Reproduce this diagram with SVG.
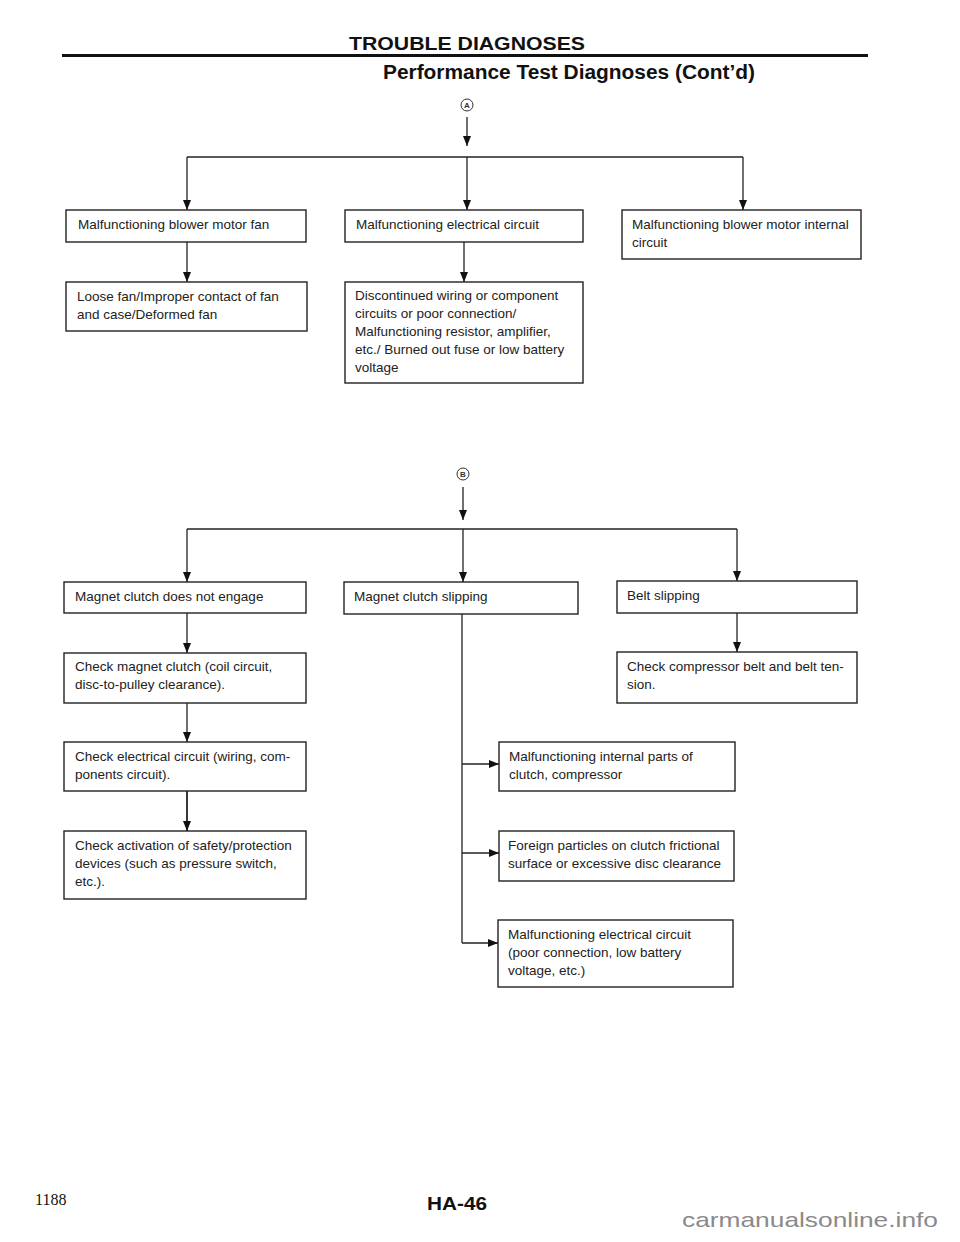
<svg xmlns="http://www.w3.org/2000/svg" width="960" height="1242" viewBox="0 0 960 1242">
<defs>
<marker id="ah" markerUnits="userSpaceOnUse" markerWidth="11" markerHeight="9" refX="10" refY="4" orient="auto">
<path d="M0,0 L10,4 L0,8 z" fill="#111"/>
</marker>
<style>
.box{fill:#fff;stroke:#222;stroke-width:1.4}
.t{font-family:"Liberation Sans",Arial,sans-serif;font-size:13.5px;fill:#222}
.c{fill:none;stroke:#222;stroke-width:1.3}
.a{fill:none;stroke:#222;stroke-width:1.3;marker-end:url(#ah)}
.circ{fill:none;stroke:#333;stroke-width:1}
.cl{font-family:"Liberation Sans",Arial,sans-serif;font-size:8px;font-weight:bold;fill:#333}
.h{font-family:"Liberation Sans",Arial,sans-serif;font-weight:bold;fill:#111}
</style>
</defs>
<rect width="960" height="1242" fill="#fff"/>

<g id="header">
<text class="h" x="349" y="50" font-size="19" textLength="236" lengthAdjust="spacingAndGlyphs">TROUBLE DIAGNOSES</text>
<rect x="62" y="54" width="806" height="3" fill="#111"/>
<text class="h" x="383" y="79" font-size="20" textLength="372" lengthAdjust="spacingAndGlyphs">Performance Test Diagnoses (Cont’d)</text>
</g>

<g id="connector-A-label">
<circle class="circ" cx="467" cy="105" r="6"/>
<text class="cl" x="467" y="108" text-anchor="middle">A</text>
</g>
<g id="connector-B-label">
<circle class="circ" cx="463" cy="474" r="6"/>
<text class="cl" x="463" y="477" text-anchor="middle">B</text>
</g>

<g id="connectors">
<line class="a" x1="467" y1="117" x2="467" y2="146"/>
<line class="c" x1="187" y1="157" x2="743" y2="157"/>
<line class="a" x1="187" y1="157" x2="187" y2="210"/>
<line class="a" x1="467" y1="157" x2="467" y2="210"/>
<line class="a" x1="743" y1="157" x2="743" y2="210"/>
<line class="a" x1="187" y1="242" x2="187" y2="282"/>
<line class="a" x1="464" y1="242" x2="464" y2="282"/>

<line class="a" x1="463" y1="487" x2="463" y2="520"/>
<line class="c" x1="187" y1="529" x2="737" y2="529"/>
<line class="a" x1="187" y1="529" x2="187" y2="582"/>
<line class="a" x1="463" y1="529" x2="463" y2="582"/>
<line class="a" x1="737" y1="529" x2="737" y2="581"/>
<line class="a" x1="187" y1="613" x2="187" y2="653"/>
<line class="a" x1="187" y1="703" x2="187" y2="742"/>
<line class="a" x1="187" y1="791" x2="187" y2="831" style="stroke-width:1.8"/>
<line class="a" x1="737" y1="613" x2="737" y2="652"/>
<polyline class="c" points="462,614 462,943"/>
<line class="a" x1="462" y1="764" x2="499" y2="764"/>
<line class="a" x1="462" y1="853" x2="499" y2="853"/>
<line class="a" x1="462" y1="943" x2="498" y2="943"/>
</g>

<g id="n1"><rect class="box" x="66" y="210" width="240" height="32"/><text class="t" x="78" y="229">Malfunctioning blower motor fan</text></g>
<g id="n2"><rect class="box" x="345" y="210" width="238" height="32"/><text class="t" x="356" y="229">Malfunctioning electrical circuit</text></g>
<g id="n3"><rect class="box" x="622" y="210" width="239" height="49"/><text class="t" x="632" y="229">Malfunctioning blower motor internal</text><text class="t" x="632" y="247">circuit</text></g>
<g id="n4"><rect class="box" x="66" y="282" width="241" height="49"/><text class="t" x="77" y="301">Loose fan/Improper contact of fan</text><text class="t" x="77" y="319">and case/Deformed fan</text></g>
<g id="n5"><rect class="box" x="345" y="282" width="238" height="101"/>
<text class="t" x="355" y="300">Discontinued wiring or component</text>
<text class="t" x="355" y="318">circuits or poor connection/</text>
<text class="t" x="355" y="336">Malfunctioning resistor, amplifier,</text>
<text class="t" x="355" y="354">etc./ Burned out fuse or low battery</text>
<text class="t" x="355" y="372">voltage</text></g>

<g id="n6"><rect class="box" x="64" y="582" width="242" height="31"/><text class="t" x="75" y="601">Magnet clutch does not engage</text></g>
<g id="n7"><rect class="box" x="344" y="582" width="234" height="32"/><text class="t" x="354" y="601">Magnet clutch slipping</text></g>
<g id="n8"><rect class="box" x="617" y="581" width="240" height="32"/><text class="t" x="627" y="600">Belt slipping</text></g>
<g id="n9"><rect class="box" x="64" y="653" width="242" height="50"/><text class="t" x="75" y="671">Check magnet clutch (coil circuit,</text><text class="t" x="75" y="689">disc-to-pulley clearance).</text></g>
<g id="n10"><rect class="box" x="617" y="652" width="240" height="51"/><text class="t" x="627" y="671">Check compressor belt and belt ten-</text><text class="t" x="627" y="689">sion.</text></g>
<g id="n11"><rect class="box" x="64" y="742" width="242" height="49"/><text class="t" x="75" y="761">Check electrical circuit (wiring, com-</text><text class="t" x="75" y="779">ponents circuit).</text></g>
<g id="n12"><rect class="box" x="499" y="742" width="236" height="49"/><text class="t" x="509" y="761">Malfunctioning internal parts of</text><text class="t" x="509" y="779">clutch, compressor</text></g>
<g id="n13"><rect class="box" x="64" y="831" width="242" height="68"/><text class="t" x="75" y="850">Check activation of safety/protection</text><text class="t" x="75" y="868">devices (such as pressure switch,</text><text class="t" x="75" y="886">etc.).</text></g>
<g id="n14"><rect class="box" x="499" y="831" width="235" height="50"/><text class="t" x="508" y="850">Foreign particles on clutch frictional</text><text class="t" x="508" y="868">surface or excessive disc clearance</text></g>
<g id="n15"><rect class="box" x="498" y="920" width="235" height="67"/><text class="t" x="508" y="939">Malfunctioning electrical circuit</text><text class="t" x="508" y="957">(poor connection, low battery</text><text class="t" x="508" y="975">voltage, etc.)</text></g>

<g id="footer">
<text x="35" y="1205" font-family="'Liberation Serif',serif" font-size="16" fill="#111">1188</text>
<text class="h" x="427" y="1210" font-size="18" textLength="60" lengthAdjust="spacingAndGlyphs">HA-46</text>
<text x="682" y="1227" font-family="'Liberation Sans',Arial,sans-serif" font-size="21" fill="#8a8a8a" textLength="256" lengthAdjust="spacingAndGlyphs">carmanualsonline.info</text>
</g>
</svg>
